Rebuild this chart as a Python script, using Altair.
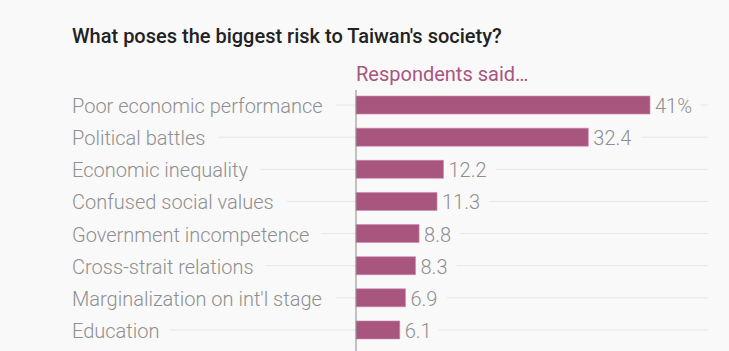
import altair as alt
import pandas as pd

categories = [
    "Poor economic performance",
    "Political battles",
    "Economic inequality",
    "Confused social values",
    "Government incompetence",
    "Cross-strait relations",
    "Marginalization on int'l stage",
    "Education",
]
values = [41, 32.4, 12.2, 11.3, 8.8, 8.3, 6.9, 6.1]
value_labels = ["41%", "32.4", "12.2", "11.3", "8.8", "8.3", "6.9", "6.1"]

title_text = "What poses the biggest risk to Taiwan's society?"
subtitle_text = "Respondents said…"

BG = "#f9f9f9"
BAR = "#a9567f"
FONT = "Roboto"
FS = 20

df = pd.DataFrame({"category": categories, "value": values, "label": value_labels})

xs = alt.Scale(domain=[0, 41], range=[356, 650])
ys = alt.Scale(domain=categories, range=[89, 346], paddingInner=0.44, paddingOuter=0.22)

base = alt.Chart(df)
Y = alt.Y("category:N", scale=ys, axis=None, bandPosition=0.5)
Yb = alt.Y("category:N", scale=ys, axis=None)

grid = base.mark_rule(color="#e6e6e6", strokeWidth=1).encode(
    x=alt.value(72), x2=alt.value(708), y=Y
)

txt_kw = dict(align="left", baseline="alphabetic", dy=8, font=FONT, fontSize=FS)

cat_knock = base.mark_text(
    color=BG, stroke=BG, strokeWidth=20, strokeJoin="round", **txt_kw
).encode(x=alt.value(72), y=Y, text="category:N")

val_knock = base.mark_text(
    dx=5, color=BG, stroke=BG, strokeWidth=20, strokeJoin="round", **txt_kw
).encode(x=alt.X("value:Q", scale=xs, axis=None), y=Y, text="label:N")

bars = base.mark_bar(color=BAR, stroke="#c98aa9", strokeWidth=0.6).encode(
    x=alt.X("value:Q", scale=xs, axis=None), x2=alt.datum(0), y=Yb
)

cat_text = base.mark_text(color="#8f8f8f", fontWeight=300, **txt_kw).encode(
    x=alt.value(72), y=Y, text="category:N"
)

val_text = base.mark_text(dx=5, color="#8f8f8f", fontWeight=300, **txt_kw).encode(
    x=alt.X("value:Q", scale=xs, axis=None), y=Y, text="label:N"
)

axis_line = alt.Chart(pd.DataFrame({"v": [0]})).mark_rule(color="#8a8a8a", strokeWidth=1).encode(
    x=alt.X("v:Q", scale=xs, axis=None), y=alt.value(90), y2=alt.value(351)
)

title = alt.Chart(pd.DataFrame({"t": [title_text]})).mark_text(
    align="left", baseline="alphabetic", font=FONT, fontSize=FS, fontWeight=500, color="#222222"
).encode(x=alt.value(72), y=alt.value(43), text="t:N")

subtitle = alt.Chart(pd.DataFrame({"t": [subtitle_text]})).mark_text(
    align="left", baseline="alphabetic", font=FONT, fontSize=FS, color=BAR
).encode(x=alt.value(356), y=alt.value(81), text="t:N")

chart = alt.layer(
    grid, cat_knock, val_knock, bars, axis_line, cat_text, val_text, title, subtitle
).properties(
    width=729, height=351, padding=0, background=BG,
    autosize=alt.AutoSizeParams(type="none")
).configure_view(stroke=None)

chart.save("out.html", embed_options={"renderer": "svg", "actions": False})
